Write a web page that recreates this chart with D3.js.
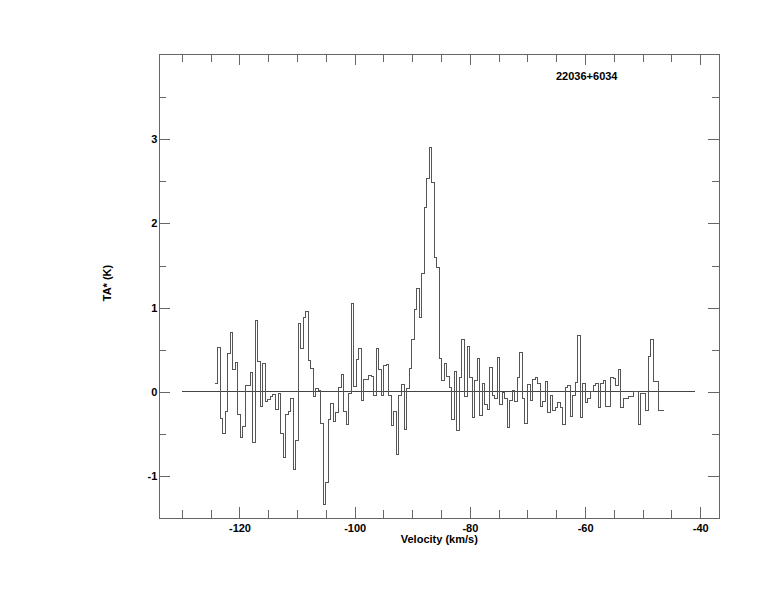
<!DOCTYPE html>
<html>
<head>
<meta charset="utf-8">
<script src="https://cdn.jsdelivr.net/npm/d3@7"></script>
<style>
  body { margin: 0; background: #fff; }
  svg { display: block; }
  text { font-family: "Liberation Sans", Arial, Helvetica, sans-serif; font-weight: bold; }
</style>
</head>
<body>
<svg id="chart" width="774" height="612"></svg>
<script>
// ---- data ----
const sourceName = "22036+6034";
const xLabel = "Velocity (km/s)";
const yLabel = "TA* (K)";
const velStart = -124.25;      // left edge of first channel (km/s)
const chanWidth = 0.4375;      // channel width (km/s)
const taValues = [
  0.10, 0.53, -0.32, -0.50, -0.23, 0.45, 0.70, 0.26, 0.35, -0.27,
  -0.54, -0.41, 0.07, 0.07, 0.23, -0.60, 0.85, 0.36, -0.18, 0.34,
  -0.12, -0.09, -0.06, -0.03, -0.21, -0.02, -0.49, -0.78, -0.27, -0.23,
  -0.08, -0.92, -0.58, 0.81, 0.52, 0.88, 0.95, 0.37, 0.28, -0.06,
  0.04, 0.02, -0.38, -1.34, -1.08, -0.33, -0.14, -0.35, -0.25, 0.05,
  0.20, -0.23, -0.39, -0.02, 1.05, 0.06, 0.38, 0.52, -0.10, 0.15,
  0.15, 0.19, 0.18, -0.05, 0.51, 0.26, -0.04, 0.31, 0.32, -0.05,
  -0.40, -0.24, -0.75, -0.05, 0.09, -0.45, 0.04, 0.28, 0.62, 0.98,
  1.23, 0.88, 1.41, 2.19, 2.54, 2.90, 2.49, 1.59, 1.48, 0.39,
  0.13, 0.33, 0.18, 0.05, -0.33, 0.24, -0.46, 0.17, 0.62, -0.06,
  0.54, 0.17, -0.30, 0.13, 0.40, -0.28, 0.10, -0.15, -0.21, 0.29,
  -0.04, -0.08, 0.41, -0.15, -0.01, -0.08, -0.43, -0.10, 0.01, -0.12,
  0.17, 0.47, -0.08, -0.38, 0.09, -0.10, 0.15, 0.17, 0.10, -0.18,
  -0.11, 0.12, -0.25, -0.05, -0.22, -0.19, -0.13, -0.19, -0.39, 0.05,
  0.08, -0.29, -0.05, 0.11, 0.67, -0.31, 0.10, -0.13, -0.08, 0.00,
  0.08, 0.10, -0.19, 0.10, 0.13, -0.17, -0.17, 0.17, 0.16, 0.08,
  0.26, -0.19, -0.08, -0.08, -0.06, -0.06, 0.00, 0.00, -0.39, -0.02,
  -0.02, -0.22, 0.42, 0.62, 0.12, 0.12, -0.22, -0.22
];
const baselineRange = [-130, -41];
const xMajorTicks = [-120, -100, -80, -60, -40];
const xMinorTicks = [-130, -125, -115, -110, -105, -95, -90, -85, -75, -70, -65, -55, -50, -45];
const yMajorTicks = [-1, 0, 1, 2, 3];
const yMinorTicks = [-0.5, 0.5, 1.5, 2.5, 3.5];

// ---- layout ----
const plotLeft = 159.3, plotRight = 719.3, plotTop = 54.3, plotBottom = 518;
const axisColor = "#666";
const lineColor = "#555";

const svg = d3.select("#chart");
svg.append("rect").attr("width", 774).attr("height", 612).attr("fill", "#fff");

const x = d3.scaleLinear().domain([-133.92, -36.70]).range([plotLeft, plotRight]);
const y = d3.scaleLinear().domain([-1.5, 4.01]).range([plotBottom, plotTop]);

const fmt = d => String(d);

function styleAxis(g) {
  g.select(".domain").remove();
  g.selectAll(".tick line").attr("stroke", axisColor).attr("stroke-width", 1)
    .attr("shape-rendering", "crispEdges");
  g.selectAll(".tick text").attr("fill", "#000").attr("font-size", 11)
    .attr("font-family", '"Liberation Sans", Arial, sans-serif').attr("font-weight", "bold");
}

// bottom
svg.append("g").attr("transform", `translate(0,${plotBottom})`)
  .call(d3.axisBottom(x).tickValues(xMajorTicks).tickSize(-11).tickPadding(6).tickFormat(fmt))
  .call(styleAxis);
svg.append("g").attr("transform", `translate(0,${plotBottom})`)
  .call(d3.axisBottom(x).tickValues(xMinorTicks).tickSize(-8).tickFormat(""))
  .call(styleAxis);
// top
svg.append("g").attr("transform", `translate(0,${plotTop})`)
  .call(d3.axisTop(x).tickValues(xMajorTicks).tickSize(-11).tickFormat(""))
  .call(styleAxis);
svg.append("g").attr("transform", `translate(0,${plotTop})`)
  .call(d3.axisTop(x).tickValues(xMinorTicks).tickSize(-8).tickFormat(""))
  .call(styleAxis);
// left
svg.append("g").attr("transform", `translate(${plotLeft},0)`)
  .call(d3.axisLeft(y).tickValues(yMajorTicks).tickSize(-11).tickPadding(2).tickFormat(fmt))
  .call(styleAxis);
svg.append("g").attr("transform", `translate(${plotLeft},0)`)
  .call(d3.axisLeft(y).tickValues(yMinorTicks).tickSize(-7).tickFormat(""))
  .call(styleAxis);
// right
svg.append("g").attr("transform", `translate(${plotRight},0)`)
  .call(d3.axisRight(y).tickValues(yMajorTicks).tickSize(-11).tickFormat(""))
  .call(styleAxis);
svg.append("g").attr("transform", `translate(${plotRight},0)`)
  .call(d3.axisRight(y).tickValues(yMinorTicks).tickSize(-7).tickFormat(""))
  .call(styleAxis);

// frame
svg.append("rect")
  .attr("x", plotLeft).attr("y", plotTop)
  .attr("width", plotRight - plotLeft).attr("height", plotBottom - plotTop)
  .attr("fill", "none").attr("stroke", axisColor).attr("stroke-width", 1)
  .attr("shape-rendering", "crispEdges");

// baseline
svg.append("line")
  .attr("x1", x(baselineRange[0])).attr("x2", x(baselineRange[1]))
  .attr("y1", y(0)).attr("y2", y(0))
  .attr("stroke", "#444").attr("stroke-width", 1)
  .attr("shape-rendering", "crispEdges");

// spectrum histogram
const pts = taValues.map((v, i) => [velStart + i * chanWidth, v]);
pts.push([velStart + taValues.length * chanWidth, taValues[taValues.length - 1]]);
const line = d3.line().x(d => x(d[0])).y(d => y(d[1])).curve(d3.curveStepAfter);
svg.append("path").datum(pts)
  .attr("d", line)
  .attr("fill", "none").attr("stroke", lineColor).attr("stroke-width", 1)
  .attr("shape-rendering", "crispEdges");

// labels
svg.append("text").attr("x", (plotLeft + plotRight) / 2).attr("y", 543)
  .attr("text-anchor", "middle").attr("font-size", 11).text(xLabel);
svg.append("text")
  .attr("transform", `translate(111,283) rotate(-90)`)
  .attr("text-anchor", "middle").attr("font-size", 11).text(yLabel);
svg.append("text").attr("x", 556).attr("y", 80)
  .attr("font-size", 11).text(sourceName);
</script>
</body>
</html>
